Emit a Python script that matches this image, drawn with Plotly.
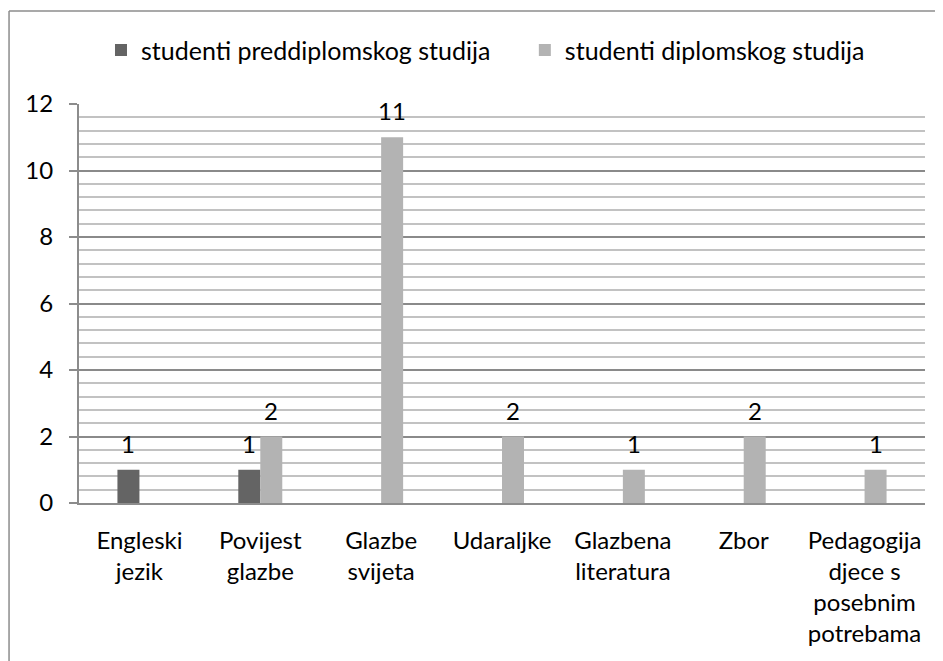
import plotly.graph_objects as go

# kategorije (predmeti) i vrijednosti
kategorije = ["Engleski<br>jezik", "Povijest<br>glazbe", "Glazbe<br>svijeta", "Udaraljke",
              "Glazbena<br>literatura", "Zbor", "Pedagogija<br>djece s<br>posebnim<br>potrebama"]
preddiplomski = [1, 1, None, None, None, None, None]
diplomski = [None, 2, 11, 2, 1, 2, 1]

naziv_pred = "studenti preddiplomskog studija"
naziv_dipl = "studenti diplomskog studija"

FONT = "Lato, sans-serif"
FS = 24

fig = go.Figure()
fig.add_trace(go.Bar(x=kategorije, y=preddiplomski, name=naziv_pred, legend="legend",
                     marker=dict(color="#646464", line=dict(width=0))))
fig.add_trace(go.Bar(x=kategorije, y=diplomski, name=naziv_dipl, legend="legend2",
                     marker=dict(color="#b3b3b3", line=dict(width=0))))

# oznake vrijednosti iznad stupaca
for vrijednosti, pomak in ((preddiplomski, -11), (diplomski, 11)):
    for k, v in zip(kategorije, vrijednosti):
        if v is None:
            continue
        fig.add_annotation(x=k, y=v, text=str(v), showarrow=False,
                           xshift=pomak, yshift=10, yanchor="bottom",
                           font=dict(size=FS, color="#000"))

# okvir grafikona (lijevi i gornji rub)
fig.add_shape(type="line", xref="paper", yref="paper",
              x0=-0.0827, x1=-0.0827, y0=-0.6, y1=1.233,
              line=dict(color="#8c8c8c", width=1.5))
fig.add_shape(type="line", xref="paper", yref="paper",
              x0=-0.0827, x1=1.1, y0=1.233, y1=1.233,
              line=dict(color="#8c8c8c", width=1.5))

leg = dict(orientation="h", y=1.135, xanchor="left", yanchor="middle",
           font=dict(size=25), itemwidth=30, bgcolor="rgba(0,0,0,0)")

fig.update_layout(
    width=935, height=653,
    margin=dict(l=71, r=18, t=96, b=158),
    paper_bgcolor="white", plot_bgcolor="white",
    font=dict(family=FONT, size=FS, color="#000"),
    barmode="group", bargap=0.636, bargroupgap=0,
    showlegend=True,
    legend=dict(leg, x=0.026),
    legend2=dict(leg, x=0.527),
    xaxis=dict(showline=True, linecolor="#8c8c8c", linewidth=2,
               showgrid=False, ticks="", ticklabelstandoff=15,
               tickfont=dict(size=FS)),
    yaxis=dict(range=[0, 12], dtick=2, showline=True, linecolor="#8c8c8c", linewidth=2,
               gridcolor="#8a8a8a", gridwidth=2,
               ticks="outside", ticklen=8, tickcolor="#8c8c8c", tickwidth=2,
               ticklabelstandoff=11, tickfont=dict(size=FS), zeroline=False,
               minor=dict(dtick=0.4, showgrid=True, gridcolor="#c2c2c2", gridwidth=2)),
)

fig.write_html("out.html")
